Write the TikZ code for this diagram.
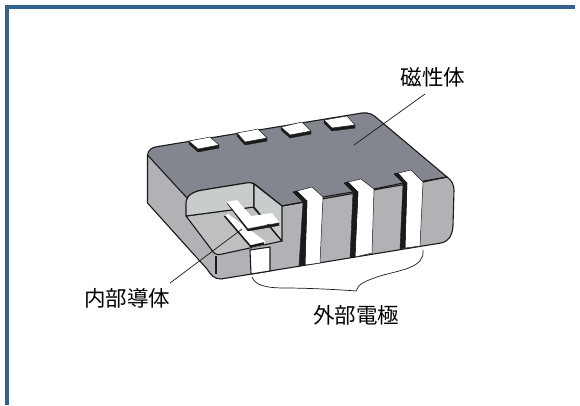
\documentclass[tikz,border=0pt]{standalone}
\usepackage{fontspec}
\newfontfamily\cjk{Noto Sans CJK JP}
\definecolor{framec}{HTML}{34628F}
\definecolor{topc}{HTML}{83868E}
\definecolor{sidec}{HTML}{B0B2B5}
\definecolor{floorc}{HTML}{BDBFC1}
\definecolor{wallc}{HTML}{C9CCCC}
\definecolor{inkc}{HTML}{1A1A1A}
\tikzset{
  x=1pt,y=-1pt,
  outline/.style={draw=inkc,line width=1.1pt,line join=round},
  thin line/.style={draw=inkc,line width=0.7pt},
  pad/.style={fill=white,draw=inkc,line width=0.5pt,line join=round},
  shadow part/.style={fill=inkc,draw=inkc,line width=0.4pt,line join=round},
  label text/.style={font=\cjk\fontsize{21.5}{24}\selectfont,inner sep=0pt,text=black}
}
\begin{document}
\begin{tikzpicture}
\useasboundingbox (0,0) rectangle (580,405);
\fill[white] (0,0) rectangle (580,405);
% frame
\fill[framec] (5,5) rectangle (575,9);
\fill[framec] (5,5) rectangle (9,405);
% side body
\path[fill=sidec,outline] (147.5,155) -- (147.5,203) -- (207,269)
  .. controls (211,275) and (214,279) .. (221,279)
  -- (441,243) .. controls (449,241) and (452,236) .. (453,226)
  -- (454,190) .. controls (454,184) and (451,180) .. (447,177)
  -- cycle;
% top face
\path[fill=topc,outline] (147.5,155) .. controls (148,150) and (152,147) .. (158,146.5)
  -- (362,113) .. controls (369,112) and (374,115) .. (378,119)
  -- (447,177) -- (282,206) -- (256,185)
  .. controls (252,182) and (249,182.5) .. (246,183)
  -- (200,190.5) .. controls (195,191.5) and (190,194) .. (187,198) -- cycle;
% cut-out
\path[fill=floorc,outline] (186,216) -- (211,249) .. controls (213,253) and (216,255) .. (220,254.5)
  -- (282,241) -- (253,207) -- cycle;
\path[fill=wallc,outline] (186,216) -- (186,206) .. controls (186,201) and (186,200) .. (188,197)
  .. controls (190,194) and (195,191.5) .. (200,190.5)
  -- (246,183) .. controls (249,182.5) and (252,182) .. (254,184)
  -- (254,207) -- cycle;
\path[fill=wallc,outline] (254,184) -- (282,206) -- (282,241) -- (254,207) -- cycle;
% internal conductor
\path[fill=white] (224,216) -- (228,214) -- (265,241) -- (264,245) -- (252,248) -- cycle;
\draw[inkc,line width=1.6pt] (224.5,216) -- (252,248);
\draw[inkc,line width=2.6pt] (251,246.5) -- (264,243.5);
\path[shadow part] (248,229) -- (279,223) -- (279,225.5) -- (248,231) -- (227,203) -- cycle;
\path[fill=white] (227,202) -- (237,200) -- (251,216) -- (272,213) -- (279,222) -- (248,228) -- cycle;
\draw[thin line] (273,231) -- (282,241);
% bottom terminal
\path[fill=white,outline] (250,250) -- (270,247) -- (270,271) -- (251,274) -- cycle;
\draw[outline] (216,256) -- (216,274);
% front electrode terminals
\path[pad] (293,192) -- (312,187) -- (323,197) -- (320,263) -- (305,265) -- (307,201) -- cycle;
\path[shadow part] (293,192) -- (297,191) -- (307,201) -- (305,265) -- (299,266) -- (303,202) -- cycle;
\path[pad] (344,183) -- (361,179) -- (374,189) -- (372,253) -- (355,257) -- (358,192) -- cycle;
\path[shadow part] (344,183) -- (348,182) -- (358,192) -- (355,257) -- (350,258) -- (353,192) -- cycle;
\path[pad] (394,174) -- (411,170) -- (423,182) -- (420,246) -- (405,248) -- (407,183) -- cycle;
\path[shadow part] (394,174) -- (398,173) -- (407,183) -- (405,248) -- (400,249) -- (403,183) -- cycle;
\draw[outline] (282,206) -- (303,202);
\draw[outline] (323,197) -- (353,192);
\draw[outline] (374,189) -- (403,183);
\draw[outline] (423,182) -- (447,177);
% top pads
\path[shadow part] (189,141) -- (198,149) -- (219,145) -- (219,148) -- (198,152) -- (189,144) -- cycle;
\path[pad] (189,141) -- (210,137) -- (219,145) -- (198,149) -- cycle;
\path[shadow part] (237,133) -- (245,142) -- (267,138) -- (267,141) -- (245,145) -- (237,136) -- cycle;
\path[pad] (237,133) -- (258,129) -- (267,138) -- (245,142) -- cycle;
\path[shadow part] (281,127) -- (290,135) -- (311,131) -- (311,134) -- (290,138) -- (281,130) -- cycle;
\path[pad] (281,127) -- (302,122) -- (311,131) -- (290,135) -- cycle;
\path[shadow part] (324,120) -- (332,128) -- (355,125) -- (355,128) -- (332,131) -- (324,123) -- cycle;
\path[pad] (324,120) -- (347,116) -- (355,125) -- (332,128) -- cycle;
% labels
\node[label text] (mag) at (433,77) {磁性体};
\node[label text] (cond) at (127,298) {内部導体};
\node[label text] (elec) at (356,315) {外部電極};
% leaders
\coordinate (magtip) at (354,145);
\coordinate (condtip) at (242,229);
\coordinate (magstart) at (425,94);
\coordinate (condstart) at (170,283);
\draw[thin line] (magstart) -- (magtip);
\draw[thin line] (condstart) -- (condtip);
% brace
\draw[thin line] (252,277) .. controls (255,285) and (265,288) .. (285,288)
  .. controls (310,288) and (345,290) .. (356,291)
  .. controls (358,284) and (365,281) .. (380,276)
  .. controls (400,270) and (425,268) .. (423,250);
\end{tikzpicture}
\end{document}
